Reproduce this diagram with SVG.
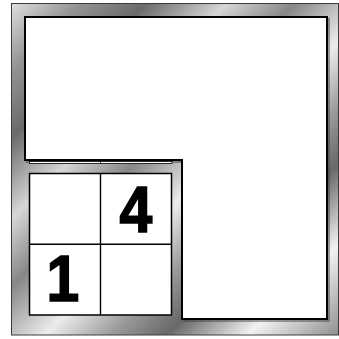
<svg xmlns="http://www.w3.org/2000/svg" width="339" height="339" viewBox="0 0 339 339">
  <defs>
    <linearGradient id="chrome" gradientUnits="userSpaceOnUse" x1="0" y1="0" x2="339" y2="339">
      <stop offset="0" stop-color="#f0f0f0"/>
      <stop offset="0.12" stop-color="#959595"/>
      <stop offset="0.22" stop-color="#6a6a6a"/>
      <stop offset="0.34" stop-color="#d6d6d6"/>
      <stop offset="0.44" stop-color="#878787"/>
      <stop offset="0.56" stop-color="#ececec"/>
      <stop offset="0.66" stop-color="#999999"/>
      <stop offset="0.74" stop-color="#686868"/>
      <stop offset="0.86" stop-color="#f2f2f2"/>
      <stop offset="1" stop-color="#8a8a8a"/>
    </linearGradient>
    <style>
      .win { fill: #ffffff; stroke: #000000; stroke-width: 2; }
      .shadow { fill: none; stroke: #3a3a3a; stroke-width: 2; opacity: 0.45; }
      .grid { fill: none; stroke: #000000; stroke-width: 1.4; }
      .digit { font-family: "Liberation Sans", Arial, sans-serif; font-weight: bold; font-size: 64px; fill: #000000; stroke: #000000; stroke-width: 1.6; stroke-linejoin: miter; text-anchor: middle; }
    </style>
  </defs>

  <g id="frame">
    <rect x="11.5" y="3.5" width="327" height="331.5" fill="url(#chrome)" stroke="#3c3c3c" stroke-width="1"/>
  </g>

  <g id="big-window">
    <polygon class="shadow" points="27,19 329,19 329,321 184,321 184,162 27,162"/>
    <polygon class="win" points="25,17 327,17 327,319 182,319 182,160 25,160"/>
  </g>

  <g id="strip">
    <rect x="29.5" y="161.5" width="142.5" height="2" fill="#ffffff" stroke="#000000" stroke-width="0.8"/>
    <line x1="100.5" y1="161.5" x2="100.5" y2="163.5" stroke="#000000" stroke-width="0.8"/>
  </g>

  <g id="grid">
    <rect x="29.5" y="173.5" width="142" height="141.5" fill="#ffffff" stroke="#000000" stroke-width="1.5"/>
    <line class="grid" x1="100.5" y1="173.5" x2="100.5" y2="315"/>
    <line class="grid" x1="29.5" y1="244.3" x2="171.5" y2="244.3"/>
  </g>

  <g id="cell-4">
    <text class="digit" x="136" y="232" transform="translate(136 0) scale(0.92 1) translate(-136 0)">4</text>
  </g>
  <g id="cell-1">
    <text class="digit" x="63" y="301" transform="translate(63 0) scale(0.92 1) translate(-63 0)">1</text>
  </g>
</svg>
